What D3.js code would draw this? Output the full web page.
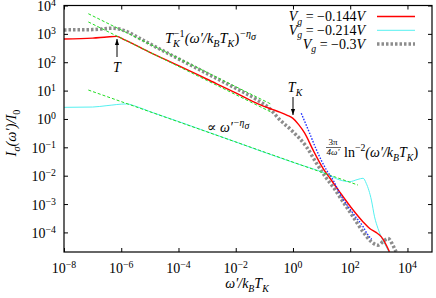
<!DOCTYPE html>
<html>
<head>
<meta charset="utf-8">
<script src="https://cdn.jsdelivr.net/npm/d3@7"></script>
<style>body{margin:0;background:#fff}</style>
</head>
<body>
<svg width="436" height="298"></svg>
<script>
const width = 436;
const height = 298;
const serif = "'Liberation Serif', 'DejaVu Serif', serif";

// tick exponents
const xTickExp = [-8, -6, -4, -2, 0, 2, 4];
const yTickExp = [-4, -3, -2, -1, 0, 1, 2, 3, 4];

// curves as log10(w'/kBTK), log10(I)
const redX = [-8, -7, -6.5, -6.16, -5.9, -5, -4, -3, -2, -1.2, -0.7, -0.46, -0.2, 0, 0.2, 0.41, 0.7, 1.05, 1.3, 1.63, 2.1, 2.45, 2.68, 2.9, 3.08, 3.2, 3.37];
const redY = [2.82, 2.85, 2.89, 2.91, 2.8, 2.35, 1.88, 1.4, 0.92, 0.52, 0.33, 0.24, 0.13, 0.02, -0.2, -0.5, -1.09, -1.74, -2.1, -2.57, -3.21, -3.63, -3.86, -4.0, -4.15, -4.33, -4.68];

const cyanX = [-8, -7, -6.5, -5.81, -5.5, -5, -4, -3, -2, -1.16, 0, 1.16, 1.63, 1.98, 2.27, 2.45, 2.56, 2.74, 2.85, 2.97, 3.08, 3.26, 3.35];
const cyanY = [0.41, 0.42, 0.47, 0.53, 0.45, 0.26, -0.09, -0.45, -0.81, -1.12, -1.53, -1.93, -2.15, -2.21, -2.13, -2.09, -2.27, -2.86, -3.45, -3.86, -4.15, -4.51, -4.69];

const grayX = [-8, -7, -6.3, -5.8, -5.5, -5, -4, -3, -2, -1.3, -0.8, -0.46, 0, 0.47, 0.82, 1.17, 1.46, 1.63, 2.1, 2.45, 2.74, 2.97, 3.14, 3.32, 3.49, 3.6];
const grayY = [3.14, 3.15, 3.2, 3.08, 2.92, 2.65, 2.12, 1.6, 1.08, 0.7, 0.35, -0.03, -0.45, -0.98, -1.56, -2.09, -2.48, -2.74, -3.45, -3.98, -4.33, -4.45, -4.33, -4.21, -4.45, -4.68];

const blueX = [0.29, 0.58, 0.82, 1.17, 1.4, 1.63, 2.1, 2.45, 2.62, 2.75];
const blueY = [0.2, -0.5, -1.09, -1.8, -2.15, -2.62, -3.33, -3.8, -4.09, -4.24];

// fitted power laws (end points)
const fitUpperX = [-7.15, -0.76];
const fitUpperY = [3.71, 0.52];
const fitLowerX = [-7.15, -0.76];
const fitLowerY = [3.42, 0.24];
const fitCyanX = [-7.15, 2.27];
const fitCyanY = [1.02, -2.33];

const legendLabels = ["\u22120.144", "\u22120.214", "\u22120.3"];

const svg = d3.select("svg");

const xScale = d3.scaleLog().domain([1e-8, 7.2e4]).range([64, 432]);
const yScale = d3.scaleLog().domain([2.04e-5, 1e4]).range([252, 5.5]);

const toPts = (xs, ys) => xs.map((v, i) => [Math.pow(10, v), Math.pow(10, ys[i])]);

svg.append("clipPath").attr("id", "clip")
  .append("rect").attr("x", 64).attr("y", 5.5).attr("width", 368).attr("height", 246.5);

// rich text with sub/superscripts
function rich(sel, x, y, parts, size, anchor) {
  const t = sel.append("text")
    .attr("x", x).attr("y", y)
    .attr("font-family", serif)
    .attr("font-size", size)
    .attr("text-anchor", anchor || "start")
    .attr("fill", "#000");
  let cur = 0;
  parts.forEach(p => {
    const off = p.off !== undefined ? p.off : (p.sup ? -size * 0.42 : p.sub ? size * 0.25 : 0);
    const small = p.sup || p.sub || p.small;
    const ts = t.append("tspan")
      .attr("dy", off - cur)
      .attr("font-size", small ? size * 0.7 : size)
      .attr("font-style", p.i ? "italic" : "normal")
      .text(p.t);
    if (p.dx) ts.attr("dx", p.dx);
    cur = off;
  });
  return t;
}

const line = d3.line()
  .x(d => xScale(d[0]))
  .y(d => yScale(d[1]))
  .curve(d3.curveMonotoneX);

const plot = svg.append("g").attr("clip-path", "url(#clip)");

plot.append("path")
  .attr("d", line(toPts(grayX, grayY)))
  .attr("fill", "none").attr("stroke", "#8c8c8c")
  .attr("stroke-width", 3.5).attr("stroke-dasharray", "2.5,2");

plot.append("path")
  .attr("d", line(toPts(cyanX, cyanY)))
  .attr("fill", "none").attr("stroke", "#55f0f0").attr("stroke-width", 1);

plot.append("path")
  .attr("d", line(toPts(redX, redY)))
  .attr("fill", "none").attr("stroke", "#ff0000").attr("stroke-width", 1.4);

[[fitUpperX, fitUpperY], [fitLowerX, fitLowerY], [fitCyanX, fitCyanY]].forEach(([xs, ys]) => {
  plot.append("path")
    .attr("d", d3.line().x(d => xScale(d[0])).y(d => yScale(d[1]))(toPts(xs, ys)))
    .attr("fill", "none").attr("stroke", "#22dd22")
    .attr("stroke-width", 1).attr("stroke-dasharray", "3,2");
});

plot.append("path")
  .attr("d", line(toPts(blueX, blueY)))
  .attr("fill", "none").attr("stroke", "#2233ff")
  .attr("stroke-width", 1.4).attr("stroke-dasharray", "1.5,1.5");

// axes with inward ticks on all sides
const xVals = xTickExp.map(e => Math.pow(10, e));
const yVals = yTickExp.map(e => Math.pow(10, e));

svg.append("g").attr("transform", "translate(0,252)")
  .call(d3.axisBottom(xScale).tickValues(xVals).tickSize(-4).tickFormat(""));
svg.append("g").attr("transform", "translate(0,5.5)")
  .call(d3.axisTop(xScale).tickValues(xVals).tickSize(-4).tickFormat(""));
svg.append("g").attr("transform", "translate(64,0)")
  .call(d3.axisLeft(yScale).tickValues(yVals).tickSize(-4).tickFormat(""));
svg.append("g").attr("transform", "translate(432,0)")
  .call(d3.axisRight(yScale).tickValues(yVals).tickSize(-4).tickFormat(""));
svg.selectAll(".domain").remove();
svg.selectAll(".tick line").attr("stroke", "#000");

svg.append("rect")
  .attr("x", 64).attr("y", 5.5).attr("width", 368).attr("height", 246.5)
  .attr("fill", "none").attr("stroke", "#000").attr("stroke-width", 1.2);

// tick labels
const expText = e => e < 0 ? "\u2212" + (-e) : String(e);
xTickExp.forEach(e => {
  rich(svg, xScale(Math.pow(10, e)), 272.5,
    [{t: "10"}, {t: expText(e), sup: true, off: -5}], 14, "middle");
});
yTickExp.forEach(e => {
  rich(svg, 56, yScale(Math.pow(10, e)) + 5.5,
    [{t: "10"}, {t: expText(e), sup: true, off: -5}], 14, "end");
});

// axis titles
rich(svg, 247, 288,
  [{t: "\u03c9\u2032/", i: true}, {t: "k", i: true}, {t: "B", sub: true, i: true},
   {t: "T", i: true}, {t: "K", sub: true, i: true}], 14, "middle");

rich(svg, 0, 0,
  [{t: "I", i: true}, {t: "\u03c3", sub: true, i: true}, {t: "(\u03c9\u2032)/", i: true},
   {t: "I", i: true}, {t: "0", sub: true}], 14.5, "middle")
  .attr("transform", "translate(16,133) rotate(-90)");

// legend
const legendColors = ["#ff0000", "#55f0f0", "#8c8c8c"];
legendLabels.forEach((lab, i) => {
  const by = 21 + i * 13.8;
  rich(svg, 365, by,
    [{t: "V", i: true}, {t: "g", sub: true, i: true}, {t: " = " + lab}, {t: "V", i: true}], 14, "end");
  const s = svg.append("line")
    .attr("x1", 377).attr("x2", 415)
    .attr("y1", by - 4.5).attr("y2", by - 4.5)
    .attr("stroke", legendColors[i]);
  if (i === 0) s.attr("stroke-width", 1.4);
  if (i === 1) s.attr("stroke-width", 1);
  if (i === 2) s.attr("stroke-width", 3.5).attr("stroke-dasharray", "2.5,2");
});

// annotations
rich(svg, 165, 43,
  [{t: "T", i: true}, {t: "K", sub: true, i: true}, {t: "\u22121", sup: true, dx: -6},
   {t: "(\u03c9\u2032/", i: true, off: 0}, {t: "k", i: true}, {t: "B", sub: true, i: true},
   {t: "T", i: true}, {t: "K", sub: true, i: true}, {t: ")"},
   {t: "\u2212\u03b7", sup: true, i: true}, {t: "\u03c3", i: true, small: true, off: -3}], 14.5);

rich(svg, 207, 132,
  [{t: "\u221d "}, {t: "\u03c9\u2032", i: true},
   {t: "\u2212\u03b7", sup: true, i: true}, {t: "\u03c3", i: true, small: true, off: -3}], 14);

// 3pi/(4w') ln^-2(...)
rich(svg, 333, 145, [{t: "3\u03c0"}], 9, "middle");
svg.append("line").attr("x1", 326).attr("x2", 341).attr("y1", 147.5).attr("y2", 147.5)
  .attr("stroke", "#000").attr("stroke-width", 0.6);
rich(svg, 333, 155, [{t: "4\u03c9\u2032", i: true}], 9, "middle");
rich(svg, 344, 157,
  [{t: "ln"}, {t: "\u22122", sup: true}, {t: "(\u03c9\u2032/", i: true, off: 0},
   {t: "k", i: true}, {t: "B", sub: true, i: true}, {t: "T", i: true},
   {t: "K", sub: true, i: true}, {t: ")"}], 14);

// arrows for T and TK
svg.append("defs").append("marker")
  .attr("id", "ah").attr("viewBox", "0 0 10 10")
  .attr("refX", 10).attr("refY", 5)
  .attr("markerWidth", 6).attr("markerHeight", 6)
  .attr("orient", "auto")
  .append("path").attr("d", "M0,1.5 L10,5 L0,8.5 Z").attr("fill", "#000");

svg.append("line").attr("x1", 117).attr("x2", 117).attr("y1", 57).attr("y2", 39)
  .attr("stroke", "#000").attr("stroke-width", 1).attr("marker-end", "url(#ah)");
rich(svg, 117, 72, [{t: "T", i: true}], 14, "middle");

svg.append("line").attr("x1", 293).attr("x2", 293).attr("y1", 97).attr("y2", 115)
  .attr("stroke", "#000").attr("stroke-width", 1).attr("marker-end", "url(#ah)");
rich(svg, 295, 92, [{t: "T", i: true}, {t: "K", sub: true, i: true}], 14, "middle");
</script>
</body>
</html>
